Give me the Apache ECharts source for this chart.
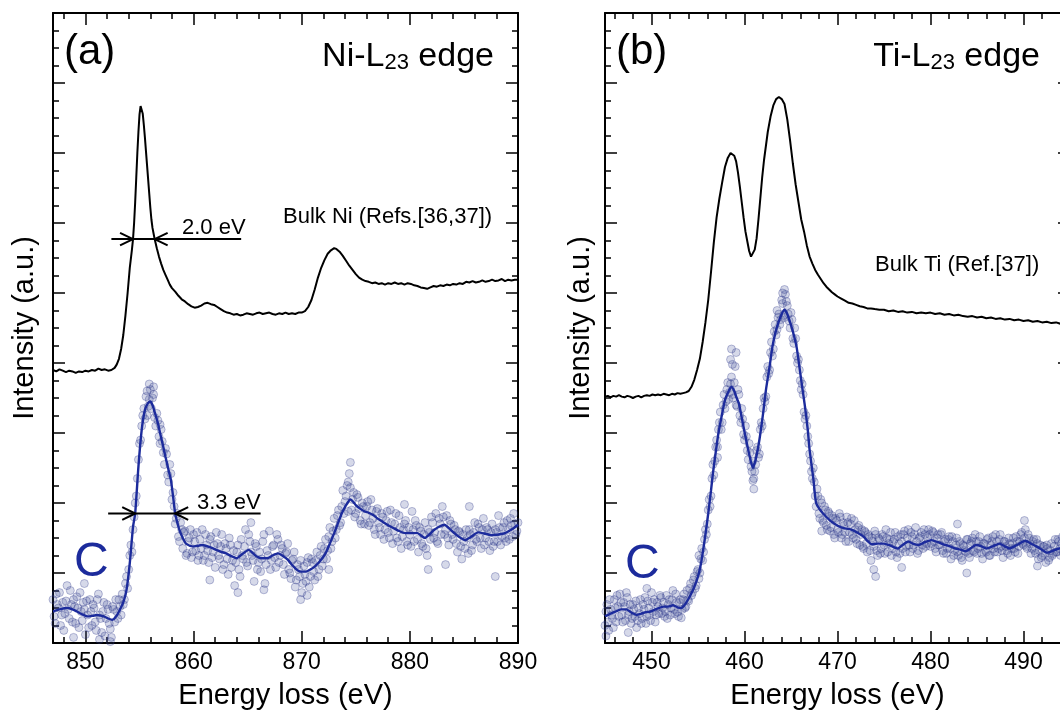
<!DOCTYPE html>
<html><head><meta charset="utf-8">
<script src="https://cdn.jsdelivr.net/npm/echarts@6.0.0/dist/echarts.min.js"></script>
<style>html,body{margin:0;padding:0;background:#fff}#c{width:1060px;height:717px}</style>
</head><body><div id="c"></div>
<script>
// ---------- tick values ----------
const niXTicks = [850, 860, 870, 880, 890];
const niXMinor = [848, 852, 854, 856, 858, 862, 864, 866, 868, 872, 874, 876, 878, 882, 884, 886, 888];
const tiXTicks = [450, 460, 470, 480, 490];
const tiXMinor = [446, 448, 452, 454, 456, 458, 462, 464, 466, 468, 472, 474, 476, 478, 482, 484, 486, 488, 492, 494];

// ---------- (a) Ni-L23 : bulk reference ----------
const niBulk = [[847.0,3.90],[847.3,3.88],[847.6,3.91],[847.9,3.89],[848.2,3.87],[848.5,3.89],[848.8,3.88],[849.1,3.86],[849.4,3.88],[849.7,3.87],[850.0,3.89],[850.3,3.88],[850.6,3.90],[850.9,3.89],[851.2,3.92],[851.5,3.90],[851.8,3.91],[852.1,3.89],[852.4,3.90],[852.7,3.93],[852.9,3.98],[853.1,4.06],[853.3,4.20],[853.5,4.40],[853.7,4.68],[853.9,5.00],[854.1,5.36],[854.3,5.62],[854.4,5.77],[854.5,6.00],[854.6,6.30],[854.7,6.65],[854.8,7.00],[854.9,7.30],[855.0,7.55],[855.1,7.67],[855.2,7.66],[855.3,7.56],[855.4,7.40],[855.5,7.22],[855.6,7.02],[855.7,6.82],[855.8,6.62],[855.9,6.42],[856.0,6.22],[856.1,6.05],[856.2,5.93],[856.3,5.85],[856.4,5.77],[856.6,5.64],[856.8,5.52],[857.0,5.42],[857.2,5.33],[857.4,5.26],[857.6,5.19],[857.8,5.12],[858.0,5.07],[858.3,5.02],[858.6,4.96],[858.9,4.91],[859.2,4.88],[859.5,4.84],[859.8,4.81],[860.1,4.79],[860.4,4.80],[860.7,4.82],[861.0,4.85],[861.3,4.86],[861.6,4.84],[861.9,4.83],[862.2,4.80],[862.5,4.77],[862.8,4.74],[863.1,4.72],[863.4,4.71],[863.7,4.69],[864.0,4.70],[864.3,4.68],[864.6,4.69],[864.9,4.71],[865.2,4.70],[865.5,4.69],[865.8,4.71],[866.1,4.72],[866.4,4.70],[866.7,4.71],[867.0,4.72],[867.3,4.70],[867.6,4.69],[867.9,4.71],[868.2,4.70],[868.5,4.72],[868.8,4.70],[869.1,4.71],[869.4,4.70],[869.7,4.72],[870.0,4.72],[870.3,4.74],[870.6,4.80],[870.9,4.90],[871.2,5.05],[871.5,5.22],[871.8,5.36],[872.1,5.47],[872.4,5.56],[872.7,5.61],[873.0,5.64],[873.2,5.63],[873.5,5.59],[873.8,5.53],[874.1,5.46],[874.4,5.39],[874.7,5.33],[875.0,5.27],[875.3,5.22],[875.6,5.19],[875.9,5.17],[876.2,5.16],[876.5,5.14],[876.8,5.15],[877.1,5.13],[877.4,5.14],[877.7,5.12],[878.0,5.14],[878.3,5.13],[878.6,5.15],[878.9,5.13],[879.2,5.14],[879.5,5.12],[879.8,5.14],[880.1,5.13],[880.4,5.11],[880.7,5.10],[881.0,5.08],[881.3,5.07],[881.6,5.06],[881.9,5.08],[882.2,5.10],[882.5,5.09],[882.8,5.11],[883.1,5.10],[883.4,5.12],[883.7,5.11],[884.0,5.13],[884.3,5.12],[884.6,5.14],[884.9,5.13],[885.2,5.16],[885.5,5.15],[885.8,5.17],[886.1,5.15],[886.4,5.16],[886.7,5.18],[887.0,5.16],[887.3,5.17],[887.6,5.19],[887.9,5.17],[888.2,5.18],[888.5,5.20],[888.8,5.17],[889.1,5.19],[889.4,5.18],[889.7,5.19],[890.0,5.19]];

// ---------- (a) Ni-L23 : sample C, smoothed fit ----------
const niFit = [[847.0,0.45],[847.6,0.48],[848.3,0.50],[848.8,0.48],[849.2,0.45],[849.7,0.41],[850.2,0.38],[850.7,0.39],[851.1,0.40],[851.4,0.39],[851.7,0.38],[852.1,0.35],[852.5,0.33],[852.8,0.37],[853.1,0.45],[853.5,0.58],[853.8,0.76],[854.1,1.14],[854.4,1.66],[854.6,1.85],[854.9,2.52],[855.2,3.04],[855.5,3.33],[855.8,3.43],[856.0,3.45],[856.2,3.40],[856.4,3.30],[856.7,3.14],[856.9,3.00],[857.2,2.80],[857.4,2.66],[857.7,2.46],[857.9,2.33],[858.1,2.10],[858.3,1.85],[858.6,1.66],[858.8,1.57],[859.1,1.47],[859.3,1.42],[859.9,1.38],[860.4,1.39],[860.8,1.40],[861.5,1.37],[862.1,1.33],[862.6,1.30],[863.0,1.28],[863.5,1.24],[864.0,1.21],[864.5,1.27],[865.1,1.33],[865.5,1.28],[865.9,1.23],[866.4,1.21],[866.8,1.21],[867.3,1.25],[867.8,1.28],[868.2,1.25],[868.7,1.19],[869.2,1.10],[869.6,1.04],[870.0,1.02],[870.4,1.02],[870.8,1.05],[871.2,1.09],[871.7,1.17],[872.2,1.28],[872.6,1.42],[873.0,1.57],[873.4,1.73],[873.7,1.85],[874.1,1.97],[874.5,2.05],[874.8,2.01],[875.0,1.97],[875.4,1.92],[875.8,1.88],[876.2,1.86],[876.6,1.83],[877.0,1.78],[877.5,1.73],[878.0,1.68],[878.5,1.64],[879.0,1.60],[879.6,1.57],[880.1,1.57],[880.7,1.57],[881.0,1.54],[881.4,1.50],[881.8,1.55],[882.2,1.61],[882.7,1.66],[883.2,1.69],[883.6,1.64],[884.1,1.57],[884.6,1.51],[885.1,1.47],[885.6,1.51],[886.3,1.58],[887.0,1.56],[887.6,1.54],[888.2,1.55],[888.8,1.57],[889.4,1.62],[890.0,1.69]];

// ---------- (a) Ni-L23 : sample C, measured points (two read-off passes) ----------
const niPoints = [[847.0,0.62],[847.2,0.28],[847.4,0.55],[847.6,0.72],[847.8,0.40],[848.0,0.18],[848.2,0.60],[848.4,0.48],[848.6,0.75],[848.8,0.30],[849.0,0.52],[849.2,0.66],[849.4,0.22],[849.6,0.45],[849.8,0.58],[850.0,0.12],[850.2,0.40],[850.4,0.62],[850.6,0.25],[850.8,0.50],[851.0,0.18],[851.2,0.70],[851.4,0.35],[851.6,0.45],[851.8,0.10],[852.0,0.55],[852.2,0.28],[852.4,0.08],[852.6,0.48],[852.8,0.62],[853.0,0.35],[853.2,0.52],[853.4,0.70],[853.6,0.62],[853.8,0.95],[854.0,1.05],[854.2,1.40],[854.4,1.62],[854.6,2.00],[854.8,2.35],[855.0,2.85],[855.2,3.10],[855.4,3.35],[855.6,3.52],[855.8,3.38],[856.0,3.62],[856.2,3.50],[856.4,3.22],[856.6,3.28],[856.8,2.95],[857.0,3.05],[857.2,2.72],[857.4,2.78],[857.6,2.40],[857.8,2.55],[858.0,2.05],[858.2,1.95],[858.4,1.78],[858.6,1.52],[858.8,1.72],[859.0,1.35],[859.2,1.60],[859.4,1.28],[859.6,1.50],[859.8,1.22],[860.0,1.55],[860.2,1.32],[860.4,1.18],[860.6,1.48],[860.8,1.62],[861.0,1.25],[861.2,1.40],[861.4,1.15],[861.6,1.52],[861.8,1.30],[862.0,1.08],[862.2,1.42],[862.4,1.20],[862.6,1.55],[862.8,1.12],[863.0,1.35],[863.2,0.98],[863.4,1.40],[863.6,1.18],[863.8,0.82],[864.0,1.30],[864.2,1.05],[864.4,1.48],[864.6,1.20],[864.8,1.62],[865.0,1.10],[865.2,1.45],[865.4,1.25],[865.6,0.88],[865.8,1.38],[866.0,1.15],[866.2,1.02],[866.4,1.45],[866.6,0.85],[866.8,1.32],[867.0,1.60],[867.2,1.18],[867.4,1.40],[867.6,1.08],[867.8,1.48],[868.0,1.25],[868.2,1.35],[868.4,0.98],[868.6,1.30],[868.8,1.05],[869.0,0.92],[869.2,1.20],[869.4,0.80],[869.6,1.12],[869.8,0.95],[870.0,0.72],[870.2,1.10],[870.4,0.88],[870.6,1.22],[870.8,0.95],[871.0,1.15],[871.2,0.90],[871.4,1.30],[871.6,1.05],[871.8,1.38],[872.0,1.20],[872.2,1.48],[872.4,1.32],[872.6,1.65],[872.8,1.45],[873.0,1.78],[873.2,1.62],[873.4,1.90],[873.6,1.72],[873.8,2.18],[874.0,2.02],[874.2,2.25],[874.4,2.42],[874.6,1.90],[874.8,2.15],[875.0,1.85],[875.2,2.08],[875.4,1.75],[875.6,2.00],[875.8,1.70],[876.0,1.95],[876.2,1.68],[876.4,2.05],[876.6,1.78],[876.8,1.55],[877.0,1.92],[877.2,1.65],[877.4,1.85],[877.6,1.48],[877.8,1.75],[878.0,1.58],[878.2,1.90],[878.4,1.42],[878.6,1.70],[878.8,1.50],[879.0,1.82],[879.2,1.35],[879.4,1.62],[879.6,1.75],[879.8,1.40],[880.0,1.55],[880.2,1.88],[880.4,1.45],[880.6,1.68],[880.8,1.30],[881.0,1.60],[881.2,1.38],[881.4,1.72],[881.6,1.25],[881.8,1.58],[882.0,1.80],[882.2,1.50],[882.4,1.85],[882.6,1.42],[882.8,1.70],[883.0,1.95],[883.2,1.55],[883.4,1.82],[883.6,1.40],[883.8,1.70],[884.0,1.48],[884.2,1.62],[884.4,1.30],[884.6,1.58],[884.8,1.20],[885.0,1.45],[885.2,1.62],[885.4,1.28],[885.6,1.55],[885.8,1.40],[886.0,1.72],[886.2,1.45],[886.4,1.65],[886.6,1.35],[886.8,1.78],[887.0,1.50],[887.2,1.62],[887.4,1.32],[887.6,1.70],[887.8,1.45],[888.0,1.58],[888.2,1.82],[888.4,1.40],[888.6,1.65],[888.8,1.50],[889.0,1.75],[889.2,1.48],[889.4,1.68],[889.6,1.85],[889.8,1.55],[890.0,1.72],
[855.9,3.70],[856.3,3.66],[855.7,3.25],[856.9,3.12],[874.5,2.58],[874.3,2.30],[864.1,0.72],[866.5,0.76],[869.9,0.62],[870.5,0.68],[861.5,0.90],[887.9,0.95],[881.7,1.05],[883.3,1.12],[848.9,0.08],[851.3,0.05],[852.3,0.02],[849.9,0.85],[885.5,1.95],[879.5,1.98],[872.5,1.05],[865.3,1.72]];
const niPoints2 = [[847.1,0.38],[847.3,0.70],[847.5,0.50],[847.7,0.25],[847.9,0.58],[848.1,0.42],[848.3,0.82],[848.5,0.35],[848.7,0.55],[848.9,0.62],[849.1,0.28],[849.3,0.50],[849.5,0.72],[849.7,0.32],[849.9,0.48],[850.1,0.60],[850.3,0.22],[850.5,0.45],[850.7,0.55],[850.9,0.30],[851.1,0.62],[851.3,0.40],[851.5,0.15],[851.7,0.58],[851.9,0.35],[852.1,0.48],[852.3,0.20],[852.5,0.52],[852.7,0.30],[852.9,0.45],[853.1,0.62],[853.3,0.40],[853.5,0.55],[853.7,0.85],[853.9,0.78],[854.1,1.25],[854.3,1.30],[854.5,1.80],[854.7,2.10],[854.9,2.62],[855.1,2.90],[855.3,3.25],[855.5,3.20],[855.7,3.60],[855.9,3.48],[856.1,3.35],[856.3,3.55],[856.5,3.10],[856.7,3.18],[856.9,2.85],[857.1,2.88],[857.3,2.55],[857.5,2.70],[857.7,2.30],[857.9,2.42],[858.1,2.15],[858.3,1.70],[858.5,1.85],[858.7,1.45],[858.9,1.62],[859.1,1.58],[859.3,1.25],[859.5,1.45],[859.7,1.62],[859.9,1.30],[860.1,1.45],[860.3,1.58],[860.5,1.25],[860.7,1.35],[860.9,1.18],[861.1,1.55],[861.3,1.32],[861.5,1.48],[861.7,1.22],[861.9,1.40],[862.1,1.58],[862.3,1.25],[862.5,1.38],[862.7,1.05],[862.9,1.42],[863.1,1.20],[863.3,1.50],[863.5,1.08],[863.7,1.32],[863.9,1.15],[864.1,1.40],[864.3,0.95],[864.5,1.25],[864.7,1.38],[864.9,1.15],[865.1,1.55],[865.3,1.30],[865.5,1.18],[865.7,1.42],[865.9,1.05],[866.1,1.30],[866.3,1.20],[866.5,1.55],[866.7,1.12],[866.9,1.25],[867.1,1.05],[867.3,1.38],[867.5,1.22],[867.7,1.55],[867.9,1.15],[868.1,1.40],[868.3,1.12],[868.5,1.28],[868.7,1.42],[868.9,1.00],[869.1,1.18],[869.3,1.30],[869.5,0.90],[869.7,1.05],[869.9,1.18],[870.1,0.85],[870.3,0.98],[870.5,1.15],[870.7,0.80],[870.9,1.20],[871.1,1.02],[871.3,1.18],[871.5,0.95],[871.7,1.25],[871.9,1.10],[872.1,1.35],[872.3,1.20],[872.5,1.52],[872.7,1.35],[872.9,1.60],[873.1,1.50],[873.3,1.82],[873.5,1.68],[873.7,1.95],[873.9,1.85],[874.1,2.10],[874.3,1.88],[874.5,2.22],[874.7,2.05],[874.9,1.80],[875.1,2.12],[875.3,1.92],[875.5,1.70],[875.7,1.95],[875.9,1.82],[876.1,2.02],[876.3,1.72],[876.5,1.90],[876.7,1.62],[876.9,1.88],[877.1,1.72],[877.3,1.55],[877.5,1.80],[877.7,1.62],[877.9,1.88],[878.1,1.50],[878.3,1.72],[878.5,1.60],[878.7,1.85],[878.9,1.45],[879.1,1.65],[879.3,1.52],[879.5,1.70],[879.7,1.45],[879.9,1.65],[880.1,1.38],[880.3,1.62],[880.5,1.75],[880.7,1.48],[880.9,1.65],[881.1,1.42],[881.3,1.55],[881.5,1.35],[881.7,1.62],[881.9,1.48],[882.1,1.72],[882.3,1.58],[882.5,1.45],[882.7,1.78],[882.9,1.55],[883.1,1.80],[883.3,1.62],[883.5,1.50],[883.7,1.75],[883.9,1.55],[884.1,1.68],[884.3,1.42],[884.5,1.60],[884.7,1.38],[884.9,1.55],[885.1,1.35],[885.3,1.50],[885.5,1.62],[885.7,1.32],[885.9,1.58],[886.1,1.48],[886.3,1.70],[886.5,1.50],[886.7,1.62],[886.9,1.40],[887.1,1.65],[887.3,1.45],[887.5,1.58],[887.7,1.38],[887.9,1.62],[888.1,1.45],[888.3,1.65],[888.5,1.52],[888.7,1.72],[888.9,1.45],[889.1,1.62],[889.3,1.78],[889.5,1.52],[889.7,1.70],[889.9,1.60]];

// ---------- (a) FWHM markers ----------
const niBulkFwhm = [[852.4,5.77],[864.4,5.77]];
const niBulkArrowL = [[853.2,5.86],[854.4,5.77],[853.2,5.68]];
const niBulkArrowR = [[857.6,5.86],[856.4,5.77],[857.6,5.68]];
const niFitFwhm = [[852.1,1.85],[866.2,1.85]];
const niFitArrowL = [[853.4,1.94],[854.6,1.85],[853.4,1.76]];
const niFitArrowR = [[859.5,1.94],[858.3,1.85],[859.5,1.76]];

// ---------- (b) Ti-L23 : bulk reference ----------
const tiBulk = [[445.0,3.52],[445.3,3.53],[445.6,3.51],[445.9,3.53],[446.2,3.52],[446.5,3.54],[446.8,3.52],[447.1,3.51],[447.4,3.53],[447.7,3.52],[448.0,3.50],[448.3,3.52],[448.6,3.53],[448.9,3.51],[449.2,3.53],[449.5,3.54],[449.8,3.53],[450.1,3.55],[450.4,3.54],[450.7,3.55],[451.0,3.54],[451.3,3.56],[451.6,3.55],[451.9,3.54],[452.2,3.56],[452.5,3.55],[452.8,3.57],[453.1,3.56],[453.4,3.57],[453.7,3.58],[454.0,3.60],[454.3,3.66],[454.6,3.76],[454.9,3.90],[455.2,4.06],[455.5,4.30],[455.8,4.58],[456.1,4.90],[456.4,5.30],[456.7,5.72],[457.0,6.08],[457.3,6.35],[457.6,6.58],[457.9,6.80],[458.2,6.93],[458.5,7.00],[458.7,7.00],[458.9,6.96],[459.1,6.88],[459.3,6.72],[459.5,6.52],[459.7,6.30],[459.9,6.08],[460.1,5.88],[460.3,5.74],[460.5,5.60],[460.7,5.52],[460.9,5.53],[461.1,5.62],[461.3,5.78],[461.5,6.05],[461.7,6.35],[461.9,6.65],[462.1,6.90],[462.3,7.10],[462.5,7.30],[462.8,7.52],[463.1,7.68],[463.4,7.77],[463.7,7.80],[464.0,7.77],[464.3,7.70],[464.6,7.48],[464.9,7.18],[465.2,6.85],[465.5,6.55],[465.8,6.30],[466.1,6.05],[466.4,5.88],[466.7,5.68],[467.0,5.52],[467.3,5.42],[467.6,5.33],[467.9,5.26],[468.2,5.20],[468.5,5.14],[468.8,5.09],[469.1,5.05],[469.4,5.01],[469.7,4.98],[470.0,4.95],[470.4,4.92],[470.8,4.89],[471.2,4.86],[471.6,4.85],[472.0,4.83],[472.4,4.81],[472.8,4.80],[473.2,4.78],[473.6,4.78],[474.0,4.77],[474.5,4.76],[475.0,4.76],[475.5,4.74],[476.0,4.75],[476.5,4.73],[477.0,4.74],[477.5,4.72],[478.0,4.73],[478.5,4.71],[479.0,4.72],[479.5,4.71],[480.0,4.72],[480.5,4.70],[481.0,4.71],[481.5,4.69],[482.0,4.70],[482.5,4.68],[483.0,4.69],[483.5,4.67],[484.0,4.66],[484.5,4.67],[485.0,4.65],[485.5,4.66],[486.0,4.64],[486.5,4.65],[487.0,4.63],[487.5,4.64],[488.0,4.62],[488.5,4.63],[489.0,4.61],[489.5,4.62],[490.0,4.60],[490.5,4.61],[491.0,4.59],[491.5,4.60],[492.0,4.58],[492.5,4.59],[493.0,4.57],[493.5,4.58],[494.0,4.56],[494.5,4.57],[495.0,4.56]];

// ---------- (b) Ti-L23 : sample C, smoothed fit ----------
const tiFit = [[445.0,0.38],[445.6,0.42],[446.3,0.46],[446.8,0.48],[447.3,0.48],[447.9,0.43],[448.4,0.40],[448.9,0.42],[449.4,0.44],[449.9,0.45],[450.6,0.49],[451.3,0.52],[451.8,0.52],[452.3,0.54],[452.8,0.51],[453.2,0.50],[453.6,0.55],[454.1,0.66],[454.6,0.80],[455.0,0.95],[455.3,1.12],[455.5,1.28],[455.8,1.55],[456.1,1.85],[456.4,2.18],[456.6,2.42],[456.9,2.72],[457.2,3.00],[457.6,3.28],[457.9,3.47],[458.3,3.60],[458.6,3.66],[458.9,3.60],[459.1,3.52],[459.4,3.42],[459.7,3.22],[460.1,2.95],[460.5,2.70],[460.9,2.50],[461.2,2.62],[461.6,2.90],[462.0,3.28],[462.3,3.61],[462.7,3.95],[463.0,4.23],[463.3,4.42],[463.6,4.56],[464.0,4.70],[464.3,4.76],[464.6,4.70],[465.0,4.54],[465.3,4.40],[465.6,4.23],[465.9,3.95],[466.2,3.66],[466.5,3.38],[466.8,3.05],[467.0,2.76],[467.4,2.35],[467.7,2.00],[468.2,1.89],[468.8,1.80],[469.2,1.75],[469.6,1.71],[470.1,1.67],[470.7,1.64],[471.2,1.63],[471.7,1.61],[472.2,1.57],[472.8,1.52],[473.2,1.46],[473.7,1.41],[474.3,1.42],[475.0,1.42],[475.7,1.39],[476.5,1.35],[477.0,1.40],[477.6,1.45],[478.1,1.42],[478.7,1.40],[479.4,1.44],[480.1,1.47],[480.8,1.44],[481.6,1.40],[482.1,1.38],[482.7,1.35],[483.3,1.33],[483.8,1.31],[484.4,1.36],[484.9,1.40],[485.5,1.38],[486.0,1.35],[486.7,1.38],[487.4,1.42],[488.0,1.38],[488.5,1.35],[489.3,1.40],[490.2,1.46],[490.8,1.42],[491.4,1.38],[492.0,1.33],[492.5,1.29],[493.2,1.32],[493.8,1.35],[494.4,1.36],[495.0,1.38]];

// ---------- (b) Ti-L23 : sample C, measured points (two read-off passes) ----------
const tiPoints = [[445.0,0.25],[445.2,0.55],[445.4,0.18],[445.6,0.48],[445.8,0.35],[446.0,0.62],[446.2,0.30],[446.4,0.52],[446.6,0.70],[446.8,0.40],[447.0,0.58],[447.2,0.32],[447.4,0.65],[447.6,0.45],[447.8,0.28],[448.0,0.55],[448.2,0.38],[448.4,0.22],[448.6,0.50],[448.8,0.62],[449.0,0.35],[449.2,0.48],[449.4,0.28],[449.6,0.60],[449.8,0.40],[450.0,0.72],[450.2,0.45],[450.4,0.30],[450.6,0.58],[450.8,0.42],[451.0,0.65],[451.2,0.50],[451.4,0.38],[451.6,0.68],[451.8,0.55],[452.0,0.40],[452.2,0.62],[452.4,0.48],[452.6,0.70],[452.8,0.44],[453.0,0.58],[453.2,0.36],[453.4,0.62],[453.6,0.50],[453.8,0.75],[454.0,0.60],[454.2,0.85],[454.4,0.72],[454.6,0.95],[454.8,0.82],[455.0,1.05],[455.2,1.00],[455.4,1.35],[455.6,1.30],[455.8,1.62],[456.0,1.70],[456.2,2.05],[456.4,2.10],[456.6,2.55],[456.8,2.60],[457.0,2.90],[457.2,3.05],[457.4,3.30],[457.6,3.15],[457.8,3.55],[458.0,3.45],[458.2,3.72],[458.4,3.58],[458.6,3.80],[458.8,3.50],[459.0,3.95],[459.2,3.38],[459.4,3.55],[459.6,3.15],[459.8,3.20],[460.0,2.90],[460.2,2.95],[460.4,2.62],[460.6,2.72],[460.8,2.45],[461.0,2.35],[461.2,2.55],[461.4,2.80],[461.6,2.70],[461.8,3.15],[462.0,3.35],[462.2,3.45],[462.4,3.80],[462.6,3.85],[462.8,4.15],[463.0,4.10],[463.2,4.45],[463.4,4.40],[463.6,4.65],[463.8,4.55],[464.0,4.90],[464.2,4.68],[464.4,4.98],[464.6,4.82],[464.8,4.60],[465.0,4.72],[465.2,4.35],[465.4,4.50],[465.6,4.10],[465.8,4.05],[466.0,3.75],[466.2,3.70],[466.4,3.30],[466.6,3.25],[466.8,2.95],[467.0,2.70],[467.2,2.45],[467.4,2.50],[467.6,2.10],[467.8,2.20],[468.0,1.85],[468.2,2.05],[468.4,1.75],[468.6,1.95],[468.8,1.68],[469.0,1.88],[469.2,1.60],[469.4,1.82],[469.6,1.55],[469.8,1.78],[470.0,1.62],[470.2,1.85],[470.4,1.50],[470.6,1.72],[470.8,1.58],[471.0,1.80],[471.2,1.45],[471.4,1.70],[471.6,1.55],[471.8,1.75],[472.0,1.48],[472.2,1.65],[472.4,1.40],[472.6,1.62],[472.8,1.35],[473.0,1.58],[473.2,1.30],[473.4,1.52],[473.6,1.18],[473.8,1.45],[474.0,1.60],[474.2,1.32],[474.4,1.50],[474.6,1.28],[474.8,1.55],[475.0,1.40],[475.2,1.62],[475.4,1.30],[475.6,1.48],[475.8,1.25],[476.0,1.45],[476.2,1.58],[476.4,1.22],[476.6,1.42],[476.8,1.55],[477.0,1.35],[477.2,1.60],[477.4,1.38],[477.6,1.62],[477.8,1.30],[478.0,1.52],[478.2,1.40],[478.4,1.65],[478.6,1.28],[478.8,1.50],[479.0,1.58],[479.2,1.35],[479.4,1.55],[479.6,1.42],[479.8,1.62],[480.0,1.38],[480.2,1.60],[480.4,1.45],[480.6,1.30],[480.8,1.55],[481.0,1.40],[481.2,1.58],[481.4,1.28],[481.6,1.48],[481.8,1.35],[482.0,1.52],[482.2,1.20],[482.4,1.45],[482.6,1.32],[482.8,1.50],[483.0,1.25],[483.2,1.42],[483.4,1.18],[483.6,1.38],[483.8,1.30],[484.0,1.48],[484.2,1.22],[484.4,1.45],[484.6,1.32],[484.8,1.55],[485.0,1.28],[485.2,1.45],[485.4,1.38],[485.6,1.20],[485.8,1.42],[486.0,1.30],[486.2,1.50],[486.4,1.25],[486.6,1.45],[486.8,1.35],[487.0,1.55],[487.2,1.30],[487.4,1.48],[487.6,1.38],[487.8,1.22],[488.0,1.45],[488.2,1.32],[488.4,1.50],[488.6,1.25],[488.8,1.42],[489.0,1.35],[489.2,1.52],[489.4,1.28],[489.6,1.45],[489.8,1.58],[490.0,1.40],[490.2,1.62],[490.4,1.35],[490.6,1.50],[490.8,1.28],[491.0,1.45],[491.2,1.32],[491.4,1.48],[491.6,1.20],[491.8,1.40],[492.0,1.25],[492.2,1.38],[492.4,1.15],[492.6,1.35],[492.8,1.22],[493.0,1.42],[493.2,1.28],[493.4,1.48],[493.6,1.30],[493.8,1.45],[494.0,1.25],[494.2,1.52],[494.4,1.35],[494.6,1.42],[494.8,1.28],[495.0,1.45],
[464.3,5.05],[464.1,5.00],[458.7,3.98],[459.1,4.15],[458.6,4.20],[458.5,4.05],[461.0,2.20],[460.9,2.32],[473.9,1.05],[474.1,0.95],[468.3,1.60],[476.9,1.08],[483.9,1.00],[447.5,0.15],[445.1,0.10],[449.5,0.78],[490.1,1.75],[482.9,1.70],[491.5,1.10],[455.1,1.25],[457.1,2.65],[463.5,4.75]];
const tiPoints2 = [[445.1,0.45],[445.3,0.30],[445.5,0.62],[445.7,0.40],[445.9,0.22],[446.1,0.50],[446.3,0.68],[446.5,0.38],[446.7,0.58],[446.9,0.30],[447.1,0.52],[447.3,0.72],[447.5,0.40],[447.7,0.55],[447.9,0.35],[448.1,0.48],[448.3,0.60],[448.5,0.32],[448.7,0.42],[448.9,0.28],[449.1,0.55],[449.3,0.65],[449.5,0.38],[449.7,0.50],[449.9,0.32],[450.1,0.58],[450.3,0.62],[450.5,0.40],[450.7,0.52],[450.9,0.68],[451.1,0.42],[451.3,0.58],[451.5,0.45],[451.7,0.35],[451.9,0.62],[452.1,0.50],[452.3,0.75],[452.5,0.42],[452.7,0.58],[452.9,0.38],[453.1,0.62],[453.3,0.48],[453.5,0.70],[453.7,0.52],[453.9,0.62],[454.1,0.78],[454.3,0.68],[454.5,0.90],[454.7,0.78],[454.9,1.02],[455.1,0.92],[455.3,1.20],[455.5,1.18],[455.7,1.48],[455.9,1.55],[456.1,1.90],[456.3,1.95],[456.5,2.35],[456.7,2.40],[456.9,2.80],[457.1,2.80],[457.3,3.15],[457.5,3.05],[457.7,3.40],[457.9,3.35],[458.1,3.62],[458.3,3.48],[458.5,3.70],[458.7,3.55],[458.9,3.72],[459.1,3.40],[459.3,3.62],[459.5,3.25],[459.7,3.35],[459.9,2.98],[460.1,3.10],[460.3,2.75],[460.5,2.85],[460.7,2.52],[460.9,2.60],[461.1,2.45],[461.3,2.75],[461.5,2.65],[461.7,3.05],[461.9,3.10],[462.1,3.50],[462.3,3.52],[462.5,3.95],[462.7,3.90],[462.9,4.30],[463.1,4.20],[463.3,4.55],[463.5,4.48],[463.7,4.70],[463.9,4.62],[464.1,4.85],[464.3,4.65],[464.5,4.88],[464.7,4.70],[464.9,4.50],[465.1,4.62],[465.3,4.28],[465.5,4.35],[465.7,4.00],[465.9,3.90],[466.1,3.62],[466.3,3.55],[466.5,3.20],[466.7,3.10],[466.9,2.85],[467.1,2.60],[467.3,2.35],[467.5,2.30],[467.7,1.95],[467.9,2.10],[468.1,1.78],[468.3,2.00],[468.5,1.72],[468.7,1.90],[468.9,1.62],[469.1,1.85],[469.3,1.65],[469.5,1.78],[469.7,1.50],[469.9,1.75],[470.1,1.58],[470.3,1.80],[470.5,1.55],[470.7,1.68],[470.9,1.45],[471.1,1.72],[471.3,1.58],[471.5,1.78],[471.7,1.50],[471.9,1.62],[472.1,1.42],[472.3,1.68],[472.5,1.55],[472.7,1.38],[472.9,1.60],[473.1,1.42],[473.3,1.55],[473.5,1.32],[473.7,1.50],[473.9,1.38],[474.1,1.55],[474.3,1.25],[474.5,1.48],[474.7,1.35],[474.9,1.52],[475.1,1.28],[475.3,1.50],[475.5,1.42],[475.7,1.58],[475.9,1.35],[476.1,1.48],[476.3,1.30],[476.5,1.52],[476.7,1.28],[476.9,1.45],[477.1,1.55],[477.3,1.30],[477.5,1.50],[477.7,1.40],[477.9,1.58],[478.1,1.35],[478.3,1.55],[478.5,1.45],[478.7,1.32],[478.9,1.52],[479.1,1.40],[479.3,1.62],[479.5,1.38],[479.7,1.50],[479.9,1.55],[480.1,1.42],[480.3,1.58],[480.5,1.35],[480.7,1.50],[480.9,1.40],[481.1,1.55],[481.3,1.32],[481.5,1.45],[481.7,1.28],[481.9,1.48],[482.1,1.35],[482.3,1.52],[482.5,1.25],[482.7,1.40],[482.9,1.30],[483.1,1.45],[483.3,1.22],[483.5,1.40],[483.7,1.32],[483.9,1.48],[484.1,1.28],[484.3,1.42],[484.5,1.50],[484.7,1.30],[484.9,1.45],[485.1,1.35],[485.3,1.52],[485.5,1.28],[485.7,1.42],[485.9,1.32],[486.1,1.48],[486.3,1.25],[486.5,1.40],[486.7,1.52],[486.9,1.30],[487.1,1.45],[487.3,1.35],[487.5,1.55],[487.7,1.32],[487.9,1.45],[488.1,1.38],[488.3,1.28],[488.5,1.42],[488.7,1.35],[488.9,1.50],[489.1,1.30],[489.3,1.45],[489.5,1.38],[489.7,1.55],[489.9,1.42],[490.1,1.50],[490.3,1.38],[490.5,1.55],[490.7,1.42],[490.9,1.35],[491.1,1.48],[491.3,1.28],[491.5,1.42],[491.7,1.32],[491.9,1.22],[492.1,1.38],[492.3,1.28],[492.5,1.40],[492.7,1.18],[492.9,1.32],[493.1,1.25],[493.3,1.38],[493.5,1.30],[493.7,1.48],[493.9,1.35],[494.1,1.42],[494.3,1.28],[494.5,1.45],[494.7,1.38],[494.9,1.32]];

// ---------- styling ----------
const FONT = '"Liberation Sans", Arial, Helvetica, sans-serif';
const BLUE = '#1c2b9c';
const Y_MIN = 0, Y_MAX = 9;

function xAxesFor(grid, min, max, major, minor, name) {
  const common = {gridIndex: grid, type: 'value', min: min, max: max, splitLine: {show: false}, silent: true};
  const mk = (pos, ticks, len, withLine, withLabel) => Object.assign({}, common, {
    position: pos,
    axisLine: {show: withLine, onZero: false, lineStyle: {color: '#000', width: 2}},
    axisTick: {show: true, inside: true, length: len, customValues: ticks, lineStyle: {color: '#000', width: 1.5}},
    axisLabel: withLabel ? {show: true, customValues: major, color: '#000', fontSize: 23, fontFamily: FONT, margin: 8} : {show: false},
    name: withLabel ? name : '',
    nameLocation: 'middle', nameGap: 38,
    nameTextStyle: {color: '#000', fontSize: 29, fontFamily: FONT}
  });
  return [mk('bottom', major, 12, true, true), mk('bottom', minor, 6, false, false),
          mk('top', major, 12, true, false), mk('top', minor, 6, false, false)];
}
function yAxesFor(grid, nameGap) {
  const mk = (pos, withName) => ({
    gridIndex: grid, type: 'value', min: Y_MIN, max: Y_MAX, interval: 1, position: pos, silent: true,
    axisLine: {show: true, onZero: false, lineStyle: {color: '#000', width: 2}},
    axisTick: {show: true, inside: true, length: 12, lineStyle: {color: '#000', width: 1.5}},
    minorTick: {show: true, splitNumber: 4, length: 6, lineStyle: {color: '#000', width: 1.5}},
    axisLabel: {show: false}, splitLine: {show: false},
    name: withName ? 'Intensity (a.u.)' : '', nameLocation: 'middle', nameGap: nameGap,
    nameTextStyle: {color: '#000', fontSize: 29, fontFamily: FONT}
  });
  return [mk('left', true), mk('right', false)];
}

const pointStyle = {color: 'rgba(60,70,150,0.26)', borderColor: 'rgba(40,50,135,0.38)', borderWidth: 1};
function scatter(data, xi, yi) {
  return {type: 'scatter', xAxisIndex: xi, yAxisIndex: yi, data: data, symbolSize: 8, itemStyle: pointStyle, silent: true, clip: true};
}
function line(data, xi, yi, color, width, smooth) {
  return {type: 'line', xAxisIndex: xi, yAxisIndex: yi, data: data, showSymbol: false, symbol: 'none', smooth: smooth || false,
          lineStyle: {color: color, width: width}, silent: true, clip: true};
}

const textBase = {fontFamily: FONT, fill: '#000'};
function label(x, y, text, size, align, color) {
  return {type: 'text', x: x, y: y, silent: true,
          style: Object.assign({}, textBase, {text: text, fontSize: size, align: align || 'left', verticalAlign: 'middle', fill: color || '#000'})};
}
function edgeTitle(x, y, el) {
  return {type: 'text', x: x, y: y, silent: true,
          style: {text: '{m|' + el + '-L}{s|23}{m| edge}', align: 'right', verticalAlign: 'middle', fontFamily: FONT, fill: '#000',
                  rich: {m: {fontSize: 34, fontFamily: FONT, fill: '#000', lineHeight: 44, verticalAlign: 'bottom'},
                         s: {fontSize: 22, fontFamily: FONT, fill: '#000', lineHeight: 16, verticalAlign: 'bottom'}}}};
}

const chart = echarts.init(document.getElementById('c'), null, {renderer: 'canvas'});
chart.setOption({
  animation: false,
  backgroundColor: '#fff',
  grid: [
    {left: 53, top: 13, width: 465, height: 630, containLabel: false, outerBoundsMode: 'none'},
    {left: 605, top: 13, width: 465, height: 630, containLabel: false, outerBoundsMode: 'none'}
  ],
  xAxis: xAxesFor(0, 847, 890, niXTicks, niXMinor, 'Energy loss (eV)').concat(xAxesFor(1, 445, 495, tiXTicks, tiXMinor, 'Energy loss (eV)')),
  yAxis: yAxesFor(0, 14).concat(yAxesFor(1, 10)),
  series: [
    scatter(niPoints.concat(niPoints2), 0, 0),
    line(niFit, 0, 0, BLUE, 2.4, 0.2),
    line(niBulk, 0, 0, '#000', 2),
    line(niBulkFwhm, 0, 0, '#000', 2),
    line(niBulkArrowL, 0, 0, '#000', 2),
    line(niBulkArrowR, 0, 0, '#000', 2),
    line(niFitFwhm, 0, 0, '#000', 2),
    line(niFitArrowL, 0, 0, '#000', 2),
    line(niFitArrowR, 0, 0, '#000', 2),
    scatter(tiPoints.concat(tiPoints2), 4, 2),
    line(tiFit, 4, 2, BLUE, 2.4, 0.2),
    line(tiBulk, 4, 2, '#000', 2)
  ],
  graphic: [
    label(64, 52, '(a)', 42),
    edgeTitle(494, 52, 'Ni'),
    label(283, 217, 'Bulk Ni (Refs.[36,37])', 22),
    label(182, 228, '2.0 eV', 22),
    label(197, 503, '3.3 eV', 22),
    label(74, 563, 'C', 48, 'left', BLUE),
    label(616, 52, '(b)', 42),
    edgeTitle(1040, 52, 'Ti'),
    label(875, 265, 'Bulk Ti (Ref.[37])', 22),
    label(625, 565, 'C', 48, 'left', BLUE)
  ]
});
</script>
</body></html>
